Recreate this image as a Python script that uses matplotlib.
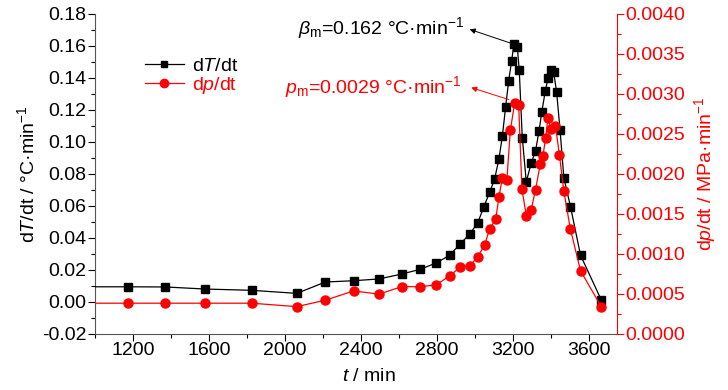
import numpy as np
import matplotlib
matplotlib.use("Agg")
import matplotlib.pyplot as plt
from matplotlib.lines import Line2D
from matplotlib.ticker import MultipleLocator, FormatStrFormatter

# -------------------------------
# fonts
# -------------------------------
FONT = "Liberation Sans"
plt.rcParams["font.family"] = [FONT, "DejaVu Sans"]
plt.rcParams["mathtext.fontset"] = "custom"
plt.rcParams["mathtext.rm"] = FONT
plt.rcParams["mathtext.it"] = FONT + ":italic"
plt.rcParams["mathtext.bf"] = FONT + ":bold"

# -------------------------------
# data
# -------------------------------
t_min = [1000, 1172, 1370, 1580, 1825, 2063, 2214, 2363, 2496, 2617, 2712,
         2798, 2868, 2925, 2974, 3016, 3049, 3079, 3105, 3128, 3146, 3163,
         3179, 3195, 3207, 3225, 3235, 3251, 3272, 3298, 3321, 3339, 3354,
         3372, 3387, 3400, 3416, 3432, 3450, 3470, 3505, 3558, 3667]
dT_dt = [0.0095, 0.0095, 0.0094, 0.0081, 0.0073, 0.0054, 0.0125, 0.0133,
         0.0144, 0.0175, 0.0204, 0.0244, 0.0292, 0.0364, 0.0425, 0.0494,
         0.0596, 0.0686, 0.0767, 0.0894, 0.1036, 0.1217, 0.1379, 0.1509,
         0.1611, 0.1591, 0.1449, 0.1028, 0.0752, 0.0867, 0.0946, 0.1067,
         0.1189, 0.1317, 0.1400, 0.1452, 0.1439, 0.1311, 0.1075, 0.0777,
         0.0596, 0.0292, 0.0013]

tp_min = [1000, 1172, 1370, 1580, 1825, 2063, 2214, 2363, 2496, 2617, 2712,
          2798, 2868, 2925, 2974, 3016, 3053, 3079, 3111, 3128, 3146, 3170,
          3188, 3211, 3232, 3249, 3272, 3298, 3321, 3346, 3360, 3374, 3386,
          3404, 3426, 3447, 3470, 3504, 3558, 3667]
dp_dt = [0.000385, 0.000385, 0.000385, 0.000385, 0.000385, 0.000342,
         0.000423, 0.000539, 0.000498, 0.000593, 0.000590, 0.000614,
         0.000727, 0.000836, 0.000853, 0.000962, 0.001116, 0.001313,
         0.001438, 0.001709, 0.001952, 0.001931, 0.002548, 0.002888,
         0.002865, 0.001814, 0.001480, 0.001555, 0.001806, 0.002128,
         0.002228, 0.002449, 0.002696, 0.002558, 0.002599, 0.002232,
         0.001784, 0.001317, 0.000790, 0.000342]

beta_m = 0.162
p_m = 0.0029

# -------------------------------
# figure
# -------------------------------
fig = plt.figure(figsize=(7.28, 3.9), dpi=100)
ax = fig.add_axes([95 / 728, 1 - 334 / 390, 522 / 728, 320 / 390])
ax2 = ax.twinx()

RED = "#ff0000"
FS = 14

ax.plot(t_min, dT_dt, color="black", lw=0.9, marker="s", ms=6,
        markevery=list(range(1, len(t_min))), zorder=3)
ax2.plot(tp_min, dp_dt, color=RED, lw=0.9, marker="o", ms=6.5,
         markevery=list(range(1, len(tp_min))), zorder=2)

ax.set_xlim(1000, 3750)
ax.set_ylim(-0.02, 0.18)
ax2.set_ylim(0, 0.004)

ax.xaxis.set_minor_locator(MultipleLocator(200))
ax.set_xticks(np.arange(1200, 3601, 400))
ax.yaxis.set_major_locator(MultipleLocator(0.02))
ax.yaxis.set_minor_locator(MultipleLocator(0.01))
ax.yaxis.set_major_formatter(FormatStrFormatter("%.2f"))
ax2.yaxis.set_major_locator(MultipleLocator(0.0005))
ax2.yaxis.set_minor_locator(MultipleLocator(0.00025))
ax2.yaxis.set_major_formatter(FormatStrFormatter("%.4f"))

for a in (ax, ax2):
    a.spines["top"].set_visible(False)
    a.tick_params(which="major", direction="out", length=5, width=0.8, labelsize=FS, pad=1)
    a.tick_params(which="minor", direction="out", length=3, width=0.8)
ax.spines["right"].set_visible(False)
ax.spines["left"].set_color("#555555")
ax.spines["bottom"].set_color("#555555")
ax2.spines["left"].set_visible(False)
ax2.spines["bottom"].set_visible(False)
ax2.spines["right"].set_color(RED)
ax2.tick_params(axis="y", which="both", colors=RED)

ax.set_xlabel(r"$\it{t}$ / min", fontsize=FS)
ax.xaxis.set_label_coords(0.525, -0.105)
ax.set_ylabel(r"d$\it{T}$/dt / °C·min$^{-1}$", fontsize=FS, labelpad=3)
ax2.set_ylabel(r"d$\it{p}$/dt / MPa·min$^{-1}$", fontsize=FS, color=RED, labelpad=5)

# annotations
ax.annotate("", xy=(2974, 0.1704), xytext=(3207, 0.1611),
            arrowprops=dict(arrowstyle="-|>", color="black", lw=0.7,
                            mutation_scale=8, shrinkA=0, shrinkB=0))
ax.text(2945, 0.1715, r"$\it{\beta}_{\rm m}$=%.3f °C·min$^{-1}$" % beta_m,
        fontsize=FS, ha="right", va="center", color="black")
ax2.annotate("", xy=(2982, 0.00308), xytext=(3180, 0.00293),
             arrowprops=dict(arrowstyle="-|>", color=RED, lw=0.7,
                             mutation_scale=8, shrinkA=0, shrinkB=0))
ax2.text(2930, 0.00309, r"$\it{p}_{\rm m}$=%.4f °C·min$^{-1}$" % p_m,
         fontsize=FS, ha="right", va="center", color=RED)

# legend
handles = [Line2D([], [], color="black", lw=0.9, marker="s", ms=5),
           Line2D([], [], color=RED, lw=0.9, marker="o", ms=6)]
leg = ax.legend(handles, [r"d$\it{T}$/dt", r"d$\it{p}$/dt"],
                loc="upper left", bbox_to_anchor=(0.062, 0.92), frameon=False,
                fontsize=14, handlelength=2.0, handletextpad=0.4,
                labelspacing=0.0)
leg.get_texts()[1].set_color(RED)

fig.savefig("out.png", dpi=100)
